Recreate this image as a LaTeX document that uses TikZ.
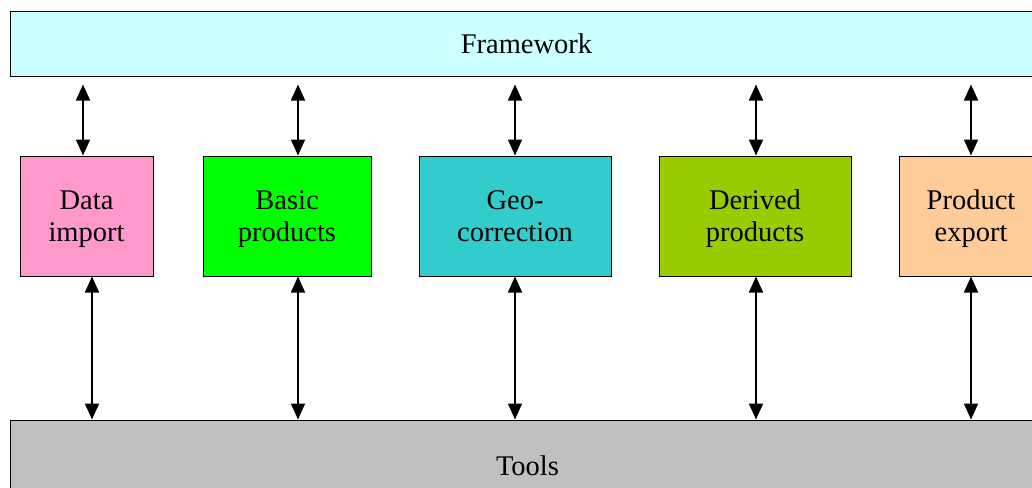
\documentclass[tikz,border=0pt]{standalone}
\usepackage{fontspec}
\setmainfont{Liberation Serif}
\usetikzlibrary{arrows.meta}
\definecolor{fwc}{HTML}{CCFFFF}
\definecolor{dic}{HTML}{FF99CC}
\definecolor{bpc}{HTML}{00FF00}
\definecolor{gcc}{HTML}{33CCCC}
\definecolor{dpc}{HTML}{99CC00}
\definecolor{pec}{HTML}{FFCC99}
\definecolor{tlc}{HTML}{C0C0C0}
\tikzset{
  blk/.style={draw=black, line width=1pt, inner sep=0pt, align=center,
    font=\rmfamily\fontsize{28.5}{32}\selectfont, text depth=0pt},
  mod/.style={blk, minimum height=120pt},
  arr/.style={line width=1.7pt, {Triangle[width=14pt,length=16pt]}-{Triangle[width=14pt,length=16pt]}}
}
\begin{document}
\begin{tikzpicture}[x=1pt,y=-1pt]
\useasboundingbox (0,0) rectangle (1032,487);
\clip (0,0) rectangle (1032,487);
\fill[white] (0,0) rectangle (1032,487);
\node[blk, fill=fwc, minimum width=1033pt, minimum height=64pt] (fw) at (526.5,44) {Framework};
\node[blk, fill=tlc, minimum width=1035pt, minimum height=92pt] (tl) at (527.5,466) {Tools};
\node[mod, fill=dic, minimum width=133pt] (di) at (86.5,216) {Data\\import};
\node[mod, fill=bpc, minimum width=168pt] (bp) at (287,216) {Basic\\products};
\node[mod, fill=gcc, minimum width=192pt] (gc) at (515,216) {Geo-\\correction};
\node[mod, fill=dpc, minimum width=192pt] (dp) at (755,216) {Derived\\products};
\node[mod, fill=pec, minimum width=144pt] (pe) at (971,216) {Product\\export};
% top arrows
\draw[arr] ([xshift=-3.5pt,yshift=-8pt]di.north |- fw.south) -- ([xshift=-3.5pt]di.north);
\draw[arr] ([xshift=11pt,yshift=-8pt]bp.north |- fw.south) -- ([xshift=11pt]bp.north);
\draw[arr] ([yshift=-8pt]gc.north |- fw.south) -- (gc.north);
\draw[arr] ([xshift=1pt,yshift=-8pt]dp.north |- fw.south) -- ([xshift=1pt]dp.north);
\draw[arr] ([yshift=-8pt]pe.north |- fw.south) -- (pe.north);
% bottom arrows
\draw[arr] ([xshift=5.5pt]di.south) -- ([xshift=5.5pt]di.south |- tl.north);
\draw[arr] ([xshift=11pt]bp.south) -- ([xshift=11pt]bp.south |- tl.north);
\draw[arr] (gc.south) -- (gc.south |- tl.north);
\draw[arr] ([xshift=1pt]dp.south) -- ([xshift=1pt]dp.south |- tl.north);
\draw[arr] (pe.south) -- (pe.south |- tl.north);
\end{tikzpicture}
\end{document}
